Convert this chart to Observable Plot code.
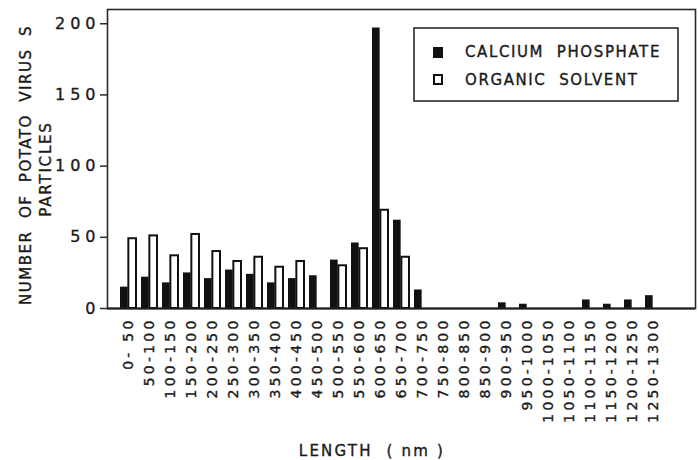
<!DOCTYPE html>
<html>
<head>
<meta charset="utf-8">
<script src="https://cdn.jsdelivr.net/npm/d3@7"></script>
<script src="https://cdn.jsdelivr.net/npm/@observablehq/plot@0.6"></script>
<style>
  html, body { margin: 0; padding: 0; background: white; }
  #chart svg text { fill: #1a1a1a; stroke: #1a1a1a; stroke-width: 0.35px; }
  #chart [aria-label="x-axis tick label"] text { letter-spacing: 3.2px; }
  #chart [aria-label="y-axis tick label"] text { letter-spacing: 5px; }
</style>
</head>
<body>
<div id="chart"></div>
<script>
const labels = ["0- 50","50-100","100-150","150-200","200-250","250-300","300-350","350-400","400-450","450-500",
  "500-550","550-600","600-650","650-700","700-750","750-800","800-850","850-900","900-950","950-1000",
  "1000-1050","1050-1100","1100-1150","1150-1200","1200-1250","1250-1300"];
const calcium = [15,22,18,25,21,27,24,18,21,23,34,46,197,62,13,0,0,0,4,3,0,0,6,3,6,9];
const organic = [49,51,37,52,40,33,36,29,33,0,30,42,69,36,0,0,0,0,0,0,0,0,0,0,0,0];
const yTicks = [0,50,100,150,200];
const seriesNames = ["CALCIUM  PHOSPHATE","ORGANIC  SOLVENT"];
const yTitle = ["NUMBER  OF  POTATO  VIRUS  S","PARTICLES"];
const xTitle = "LENGTH  ( nm )";

const data = labels.map((label, i) => ({label, calcium: calcium[i], organic: organic[i]}));

const chart = Plot.plot({
  width: 698,
  height: 460,
  marginLeft: 107,
  marginRight: 3,
  marginTop: 9,
  marginBottom: 152,
  style: {fontFamily: "DejaVu Sans", fontSize: "14px", background: "white", color: "#1a1a1a"},
  x: {type: "band", domain: labels, range: [115, 667], paddingInner: 0.22, paddingOuter: 0, label: null},
  y: {domain: [0, 210], label: null},
  marks: [
    Plot.frame({stroke: "#2a2a2a", strokeWidth: 1.6}),
    Plot.barY(data.filter(d => d.calcium > 0), {x: "label", y: "calcium", fill: "#111", insetRight: 8.35}),
    Plot.barY(data.filter(d => d.organic > 0), {x: "label", y: "organic", fill: "white", stroke: "#111", strokeWidth: 2, insetLeft: 8.35}),
    Plot.ruleY([0], {stroke: "#1a1a1a", strokeWidth: 2.2}),
    Plot.axisY({ticks: yTicks, tickSize: 7, tickPadding: 0, label: null, fontSize: 16, stroke: "#2a2a2a", strokeWidth: 1.5}),
    Plot.axisX({tickSize: 0, tickRotate: -90, tickPadding: 9, label: null, fontSize: 14})
  ]
});
document.getElementById("chart").appendChild(chart);

const svg = d3.select(chart);
// Y title (two lines)
svg.append("text").attr("transform", "translate(26,165) rotate(-90)")
  .attr("text-anchor", "middle").attr("dominant-baseline", "central")
  .style("font-size", "15px").style("letter-spacing", "1.5px").style("white-space", "pre")
  .text(yTitle[0]);
svg.append("text").attr("transform", "translate(46,169) rotate(-90)")
  .attr("text-anchor", "middle").attr("dominant-baseline", "central")
  .style("font-size", "15px").style("letter-spacing", "1.8px").style("white-space", "pre")
  .text(yTitle[1]);
// X title
svg.append("text").attr("x", 372).attr("y", 456)
  .attr("text-anchor", "middle")
  .style("font-size", "15px").style("letter-spacing", "2.2px").style("white-space", "pre")
  .text(xTitle);
// Legend
const lg = svg.append("g");
lg.append("rect").attr("x", 414).attr("y", 28).attr("width", 264).attr("height", 73)
  .attr("fill", "white").attr("stroke", "#2a2a2a").attr("stroke-width", 1.6);
lg.append("rect").attr("x", 433).attr("y", 47).attr("width", 10).attr("height", 11).attr("fill", "#111");
lg.append("rect").attr("x", 434).attr("y", 75).attr("width", 8).attr("height", 9)
  .attr("fill", "white").attr("stroke", "#111").attr("stroke-width", 2);
seriesNames.forEach((s, i) => {
  lg.append("text").attr("x", 465).attr("y", 52 + i * 28)
    .attr("text-anchor", "start").attr("dominant-baseline", "central")
    .style("font-size", "15px").style("letter-spacing", "1.6px").style("white-space", "pre")
    .text(s);
});
</script>
</body>
</html>
